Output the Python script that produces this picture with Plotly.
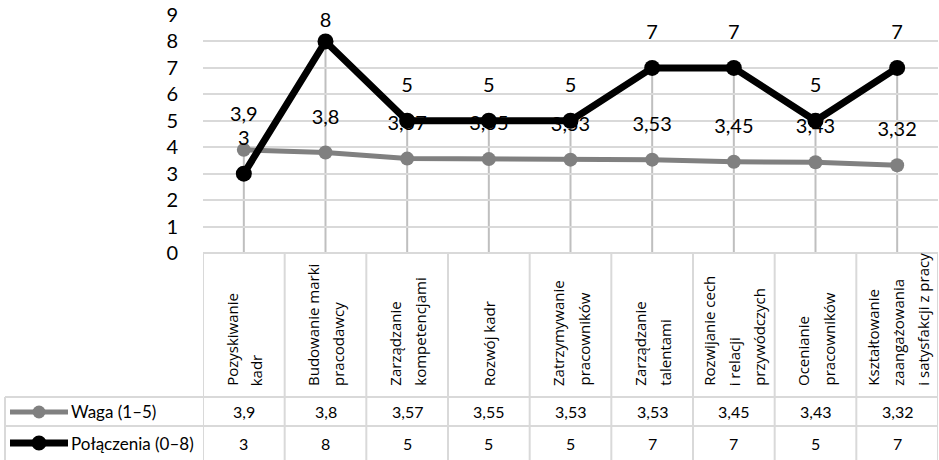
import plotly.graph_objects as go

# Dane
categories = [
    "Pozyskiwanie\nkadr",
    "Budowanie marki\npracodawcy",
    "Zarządzanie\nkompetencjami",
    "Rozwój kadr",
    "Zatrzymywanie\npracowników",
    "Zarządzanie\ntalentami",
    "Rozwijanie cech\ni relacji\nprzywódczych",
    "Ocenianie\npracowników",
    "Kształtowanie\nzaangażowania\ni satysfakcji z pracy",
]
waga = [3.9, 3.8, 3.57, 3.55, 3.53, 3.53, 3.45, 3.43, 3.32]
polaczenia = [3, 8, 5, 5, 5, 7, 7, 5, 7]
series_names = ["Waga (1–5)", "Połączenia (0–8)"]
y_ticks = list(range(0, 10))

W, H = 939, 460
L, R, T, B = 203, 1, 15, 207
PW, PH = W - L - R, H - T - B
YMAX = 9
GRID = "#D9D9D9"
NUM_FONT = "Lato"
CAT_FONT = "Open Sans"


def px_x(px):
    return (px - L) / PW


def px_y(py):
    return (H - B - py) / PH


def fmt(v):
    return str(v).replace(".", ",")


unit_px = PH / YMAX
label_off = 34 / unit_px           # etykiety danych ~34 px nad punktem
label_ceiling = YMAX - (22 - T) / unit_px  # nie wyżej niż górna krawędź wykresu

xs = list(range(len(categories)))

fig = go.Figure()

# Waga
fig.add_trace(go.Scatter(
    x=xs, y=waga, mode="lines+markers",
    line=dict(color="#808080", width=5),
    marker=dict(color="#808080", size=14),
    hoverinfo="skip", showlegend=False,
))
fig.add_trace(go.Scatter(
    x=xs, y=[min(v + label_off, label_ceiling) for v in waga], mode="text",
    text=[fmt(v) for v in waga], textposition="middle center",
    textfont=dict(family=NUM_FONT, size=20, color="#000"),
    hoverinfo="skip", showlegend=False,
))
# Połączenia
fig.add_trace(go.Scatter(
    x=xs, y=polaczenia, mode="lines+markers",
    line=dict(color="#000000", width=7),
    marker=dict(color="#000000", size=16),
    hoverinfo="skip", showlegend=False,
))
fig.add_trace(go.Scatter(
    x=xs, y=[min(v + label_off, label_ceiling) for v in polaczenia], mode="text",
    text=[fmt(v) for v in polaczenia], textposition="middle center",
    textfont=dict(family=NUM_FONT, size=20, color="#000"),
    hoverinfo="skip", showlegend=False,
    cliponaxis=False,
))

shapes = []
# linie pionowe od osi do najwyższego punktu kategorii
for i, (a, b) in enumerate(zip(waga, polaczenia)):
    shapes.append(dict(type="line", xref="x", yref="y", x0=i, x1=i, y0=0, y1=max(a, b),
                       line=dict(color="#BFBFBF", width=2), layer="below"))

# tabela danych
tbl_line = dict(color=GRID, width=2)
for k in range(len(categories) + 1):
    shapes.append(dict(type="line", xref="x", yref="paper", x0=k - 0.5, x1=k - 0.5,
                       y0=px_y(H - B), y1=px_y(H), line=tbl_line))
shapes.append(dict(type="line", xref="paper", yref="paper", x0=px_x(5), x1=px_x(5),
                   y0=px_y(397), y1=px_y(H), line=tbl_line))
for py in (397, 426):
    shapes.append(dict(type="line", xref="paper", yref="paper", x0=px_x(5), x1=1,
                       y0=px_y(py), y1=px_y(py), line=tbl_line))
shapes.append(dict(type="line", xref="paper", yref="paper", x0=0, x1=1,
                   y0=0, y1=0, line=tbl_line))

# klucze legendy w tabeli
row_y = [412, 443]
key_styles = [("#808080", 5, 13), ("#000000", 7, 15)]
for (col, lw, ms), py in zip(key_styles, row_y):
    shapes.append(dict(type="line", xref="paper", yref="paper", x0=px_x(10), x1=px_x(68),
                       y0=px_y(py), y1=px_y(py), line=dict(color=col, width=lw)))
    shapes.append(dict(type="circle", xref="paper", yref="paper",
                       xsizemode="pixel", ysizemode="pixel",
                       xanchor=px_x(39), yanchor=px_y(py),
                       x0=-ms / 2, x1=ms / 2, y0=-ms / 2, y1=ms / 2,
                       fillcolor=col, line=dict(color=col, width=0)))

annotations = []
for name, py in zip(series_names, row_y):
    annotations.append(dict(text=name, xref="paper", yref="paper", x=px_x(69), y=px_y(py),
                            xanchor="left", yanchor="middle", showarrow=False,
                            font=dict(family=NUM_FONT, size=17, color="#000")))
for row_vals, py in zip((waga, polaczenia), row_y):
    for i, v in enumerate(row_vals):
        annotations.append(dict(text=fmt(v), xref="x", yref="paper", x=i, y=px_y(py),
                                xanchor="center", yanchor="middle", showarrow=False,
                                font=dict(family=NUM_FONT, size=16, color="#000")))

# nagłówki kategorii (tekst pionowy)
line_gap = 25
for i, cat in enumerate(categories):
    parts = cat.split("\n")
    n = len(parts)
    for j, part in enumerate(parts):
        annotations.append(dict(text=part, xref="x", yref="paper", x=i,
                                xshift=(j - (n - 1) / 2) * line_gap,
                                y=px_y(388), xanchor="center", yanchor="bottom",
                                textangle=-90, showarrow=False,
                                font=dict(family=CAT_FONT, size=15, color="#000")))

fig.update_layout(
    width=W, height=H,
    margin=dict(l=L, r=R, t=T, b=B, pad=0),
    paper_bgcolor="white", plot_bgcolor="white",
    xaxis=dict(range=[-0.5, len(categories) - 0.5], showgrid=False, showticklabels=False,
               zeroline=False, showline=False, fixedrange=True),
    yaxis=dict(range=[0, YMAX], tickvals=y_ticks, showgrid=True, gridcolor=GRID, gridwidth=2,
               zeroline=False, showline=False, ticks="", ticklabelstandoff=24,
               tickfont=dict(family=NUM_FONT, size=20, color="#000"), fixedrange=True),
    shapes=shapes, annotations=annotations,
)

fig.write_html("out.html", config={"displayModeBar": False})
